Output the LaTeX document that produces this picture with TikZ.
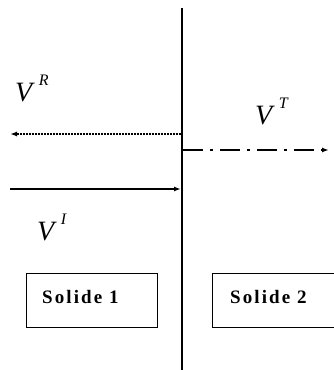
\documentclass[tikz,border=0pt]{standalone}
\usepackage{fontspec}
\setmainfont{Liberation Serif}
\newfontfamily\boxfont[LetterSpace=11]{Liberation Serif}
\usetikzlibrary{arrows.meta}
\newcommand{\vlab}[1]{\textit{V}\hspace{4pt}\raisebox{16pt}{\fontsize{16}{18}\selectfont\textit{#1}}}
\begin{document}
\begin{tikzpicture}[x=1pt,y=-1pt,
  wave/.style={line width=1.8pt,-{Latex[length=7pt,width=5pt]}},
  solidbox/.style={draw,line width=0.9pt,minimum height=54pt,inner sep=0pt},
  boxtext/.style={inner sep=0pt,anchor=base west,font=\boxfont\bfseries\fontsize{19}{22}\selectfont},
  vlabel/.style={inner sep=0pt,anchor=base west,font=\fontsize{28}{32}\selectfont}]
\useasboundingbox (0,0) rectangle (333,370);
% interface
\coordinate (top) at (182,8);
\coordinate (bot) at (182,370);
\draw[line width=2.4pt] (top) -- (bot);
% arrows
\coordinate (rS) at (181,134);
\coordinate (rE) at (10,134);
\draw[wave,dash pattern=on 1.6pt off 1.4pt] (rS) -- (rE);
\coordinate (iS) at (10,189);
\coordinate (iE) at (181,189);
\draw[wave] (iS) -- (iE);
\coordinate (tS) at (183,150);
\coordinate (tE) at (329,150);
\draw[wave,dash pattern=on 20pt off 7pt on 3pt off 7pt] (tS) -- (tE);
% labels
\node[vlabel] (lR) at (15,101) {\vlab{R}};
\node[vlabel] (lT) at (255,124) {\vlab{T}};
\node[vlabel] (lI) at (37,240) {\vlab{I}};
% boxes
\node[solidbox,minimum width=131pt,anchor=north west] (s1) at (26,273) {};
\node[solidbox,minimum width=140pt,anchor=north west] (s2) at (212,273) {};
\node[boxtext] (s1t) at (42,303) {Solide 1};
\node[boxtext] (s2t) at (230,303) {Solide 2};
\end{tikzpicture}
\end{document}
